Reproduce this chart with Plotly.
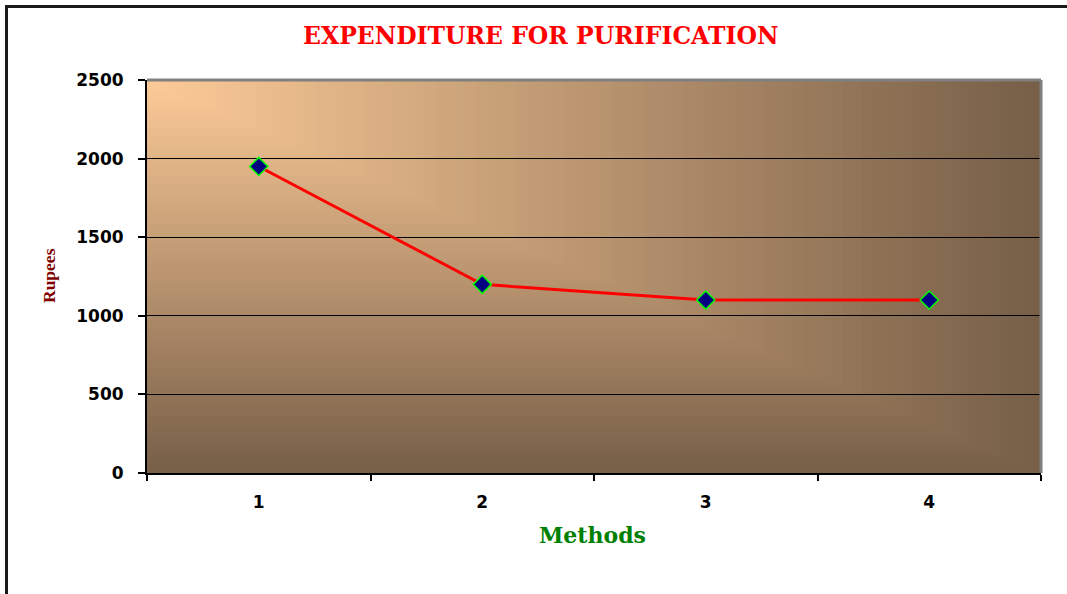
import plotly.graph_objects as go

# ---- data ----
methods = ["1", "2", "3", "4"]
rupees = [1950, 1200, 1100, 1100]
y_ticks = [0, 500, 1000, 1500, 2000, 2500]

title_text = "EXPENDITURE FOR PURIFICATION"
x_title = "Methods"
y_title = "Rupees"

# ---- layout geometry (pixels) ----
W, H = 1067, 594
L, R, T, B = 147, 26, 80, 121
pw, ph = W - L - R, H - T - B

def px_x(x):
    return (x - L) / pw

def px_y(y):
    return (H - B - y) / ph

# gradient "from corner" background colours
c0 = (253, 203, 152)
c1 = (119, 95, 72)

def mix(t):
    return "rgb(%d,%d,%d)" % tuple(round(a + (b - a) * t) for a, b in zip(c0, c1))

shapes = []
N = 90
for i in range(N, 0, -1):
    t = i / N
    shapes.append(dict(type="rect", xref="paper", yref="paper",
                       x0=0, x1=t, y0=1 - t, y1=1,
                       fillcolor=mix(t), line=dict(width=0), layer="below"))

# gray plot-area border on top and right
shapes.append(dict(type="line", xref="paper", yref="paper", x0=0, x1=1, y0=1, y1=1,
                   line=dict(color="#808080", width=3), layer="above"))
shapes.append(dict(type="line", xref="paper", yref="paper", x0=1, x1=1, y0=0, y1=1,
                   line=dict(color="#808080", width=3), layer="above"))
# outer chart border (extends beyond the picture on right and bottom)
shapes.append(dict(type="rect", xref="paper", yref="paper",
                   x0=px_x(6.5), x1=px_x(W + 20), y0=px_y(H + 20), y1=px_y(6.5),
                   line=dict(color="#1a1a1a", width=3), fillcolor="rgba(0,0,0,0)", layer="above"))

fig = go.Figure()
fig.add_trace(go.Scatter(
    x=methods, y=rupees, mode="lines+markers",
    line=dict(color="#ff0000", width=3),
    marker=dict(symbol="diamond", size=14, color="#000080",
                line=dict(color="#00ff00", width=1.5)),
    showlegend=False, hoverinfo="x+y"))

tick_font = dict(family="DejaVu Sans", size=17, color="black", weight="bold")

fig.update_layout(
    width=W, height=H,
    margin=dict(l=L, r=R, t=T, b=B),
    paper_bgcolor="white",
    plot_bgcolor="rgb(119,95,72)",
    shapes=shapes,
    annotations=[
        dict(text=title_text, xref="paper", yref="paper", x=px_x(541), y=px_y(36),
             showarrow=False, xanchor="center", yanchor="middle",
             font=dict(family="DejaVu Serif", size=23.5, color="#ff0000", weight="bold")),
        dict(text=x_title, xref="paper", yref="paper", x=px_x(592), y=px_y(535),
             showarrow=False, xanchor="center", yanchor="middle",
             font=dict(family="DejaVu Serif", size=22, color="#008000", weight="bold")),
        dict(text=y_title, xref="paper", yref="paper", x=px_x(49), y=px_y(276),
             showarrow=False, xanchor="center", yanchor="middle", textangle=-90,
             font=dict(family="Liberation Serif", size=17.5, color="#800000", weight="bold")),
    ],
    xaxis=dict(type="category", tickson="boundaries", ticks="outside", ticklen=6,
               tickwidth=1.5, tickcolor="black", showgrid=False,
               showline=True, linecolor="black", linewidth=2,
               ticklabelstandoff=13,
               tickfont=tick_font, range=[-0.5, 3.5]),
    yaxis=dict(range=[0, 2500], tickvals=y_ticks, ticks="outside", ticklen=7,
               tickwidth=1.5, tickcolor="black",
               showgrid=True, gridcolor="black", gridwidth=1, zeroline=False,
               showline=True, linecolor="black", linewidth=2,
               ticklabelstandoff=11,
               tickfont=tick_font),
)

fig.write_html("out.html", config={"displayModeBar": False},
               post_script="document.body.style.margin='0';")
